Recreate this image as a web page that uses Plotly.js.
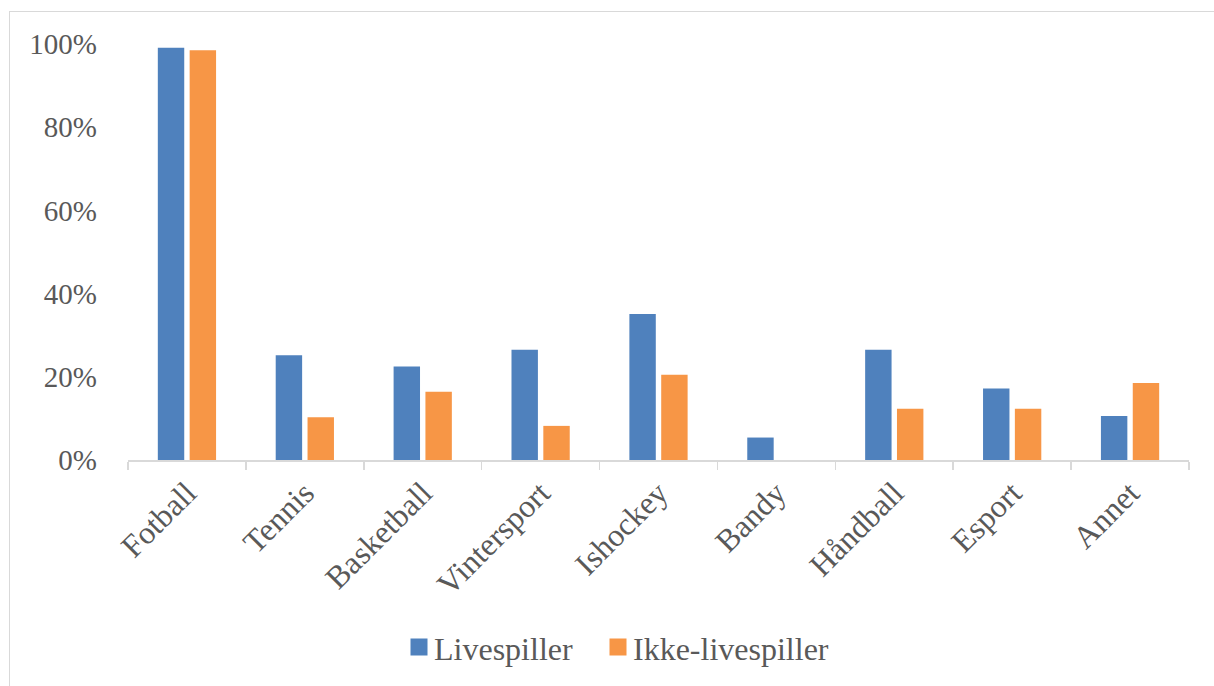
<!DOCTYPE html>
<html>
<head>
<meta charset="utf-8">
<script src="https://cdn.plot.ly/plotly-3.0.1.min.js"></script>
<style>
  html, body { margin: 0; padding: 0; background: #fff; }
  #wrap { position: relative; width: 1214px; height: 686px; overflow: hidden; }
  #chart { position: absolute; left: 0; top: 0; width: 1214px; height: 686px; }
  #frame { position: absolute; left: 9px; top: 11px; width: 1214px; height: 690px; border: 1px solid #d9d9d9; pointer-events: none; }
</style>
</head>
<body>
<div id="wrap">
  <div id="chart"></div>
  <div id="frame"></div>
</div>
<script>
const categories = ["Fotball", "Tennis", "Basketball", "Vintersport", "Ishockey", "Bandy", "Håndball", "Esport", "Annet"];
const livespiller = [0.991, 0.252, 0.225, 0.265, 0.351, 0.054, 0.265, 0.172, 0.106];
const ikkeLivespiller = [0.985, 0.103, 0.164, 0.082, 0.205, 0, 0.123, 0.123, 0.185];
const yTickValues = [0, 0.2, 0.4, 0.6, 0.8, 1.0];
const yTickLabels = ["0%", "20%", "40%", "60%", "80%", "100%"];

const fontFam = "'Liberation Serif', 'Times New Roman', serif";
const textColor = "#595959";

const traces = [
  { type: "bar", name: "Livespiller", x: categories, y: livespiller,
    marker: { color: "#4f81bd" }, hoverinfo: "none", legend: "legend" },
  { type: "bar", name: "Ikke-livespiller", x: categories, y: ikkeLivespiller,
    marker: { color: "#f79646" }, hoverinfo: "none", legend: "legend2" }
];

const legendBase = {
  orientation: "h",
  xref: "container", yref: "container",
  xanchor: "left",
  y: 0.0565, yanchor: "middle",
  font: { family: fontFam, size: 32, color: textColor },
  itemwidth: 30,
  bgcolor: "rgba(0,0,0,0)"
};

const layout = {
  width: 1214, height: 686,
  margin: { l: 128, r: 25, t: 44, b: 226, pad: 0 },
  paper_bgcolor: "rgba(0,0,0,0)",
  plot_bgcolor: "rgba(0,0,0,0)",
  barmode: "group",
  bargap: 0.46,
  bargroupgap: 0.17,
  font: { family: fontFam, color: textColor, size: 29 },
  showlegend: true,
  legend: Object.assign({}, legendBase, { x: 394 / 1214 }),
  legend2: Object.assign({}, legendBase, { x: 593 / 1214 }),
  xaxis: {
    type: "category",
    tickangle: -45,
    tickson: "boundaries",
    ticks: "outside",
    ticklen: 8,
    tickwidth: 1.5,
    tickcolor: "#d9d9d9",
    showline: true,
    linecolor: "#d9d9d9",
    linewidth: 1.5,
    showgrid: false,
    zeroline: false,
    tickfont: { family: fontFam, size: 32, color: textColor },
    fixedrange: true
  },
  yaxis: {
    range: [0, 1.0],
    tickvals: yTickValues,
    ticktext: yTickLabels,
    showgrid: false,
    zeroline: false,
    showline: false,
    ticks: "",
    ticklabelstandoff: 30,
    tickfont: { family: fontFam, size: 29, color: textColor },
    fixedrange: true
  }
};

function enlargeLegendSwatches() {
  document.querySelectorAll("#chart .legendpoints path").forEach(function (p) {
    p.setAttribute("d", "M-3.5,8.5H13.5V-8.5H-3.5Z");
  });
}

Plotly.newPlot("chart", traces, layout, { displayModeBar: false, staticPlot: true })
  .then(enlargeLegendSwatches);
</script>
</body>
</html>
